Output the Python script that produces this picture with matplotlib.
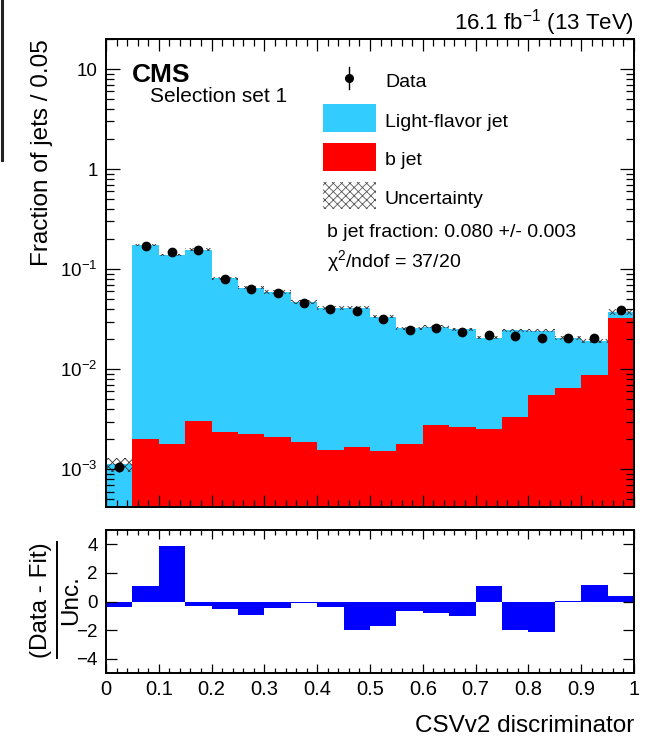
import numpy as np
import matplotlib
matplotlib.use("Agg")
import matplotlib.pyplot as plt
from matplotlib.patches import Rectangle
from matplotlib.lines import Line2D
from matplotlib.ticker import FixedLocator, MultipleLocator, NullFormatter

plt.rcParams['font.family'] = ['Liberation Sans', 'DejaVu Sans']
plt.rcParams['mathtext.fontset'] = 'custom'
plt.rcParams['mathtext.rm'] = 'Liberation Sans'
plt.rcParams['mathtext.it'] = 'Liberation Sans:italic'
plt.rcParams['mathtext.bf'] = 'Liberation Sans:bold'
plt.rcParams['hatch.linewidth'] = 0.6

# ---------------- data ----------------
edges = np.linspace(0.0, 1.0, 21)
bjet = [3.0e-4, 2.0e-3, 1.78e-3, 3.07e-3, 2.34e-3, 2.24e-3, 2.09e-3, 1.88e-3, 1.56e-3, 1.67e-3,
        1.54e-3, 1.78e-3, 2.77e-3, 2.63e-3, 2.51e-3, 3.31e-3, 5.54e-3, 6.46e-3, 8.77e-3, 0.0324]
light = [8.2e-4, 0.173, 0.1372, 0.1539, 0.0787, 0.0634, 0.0572, 0.0452, 0.0394, 0.0397,
         0.0321, 0.0239, 0.0239, 0.0225, 0.0182, 0.0212, 0.0188, 0.0142, 0.0104, 0.0050]
data = [1.06e-3, 0.172, 0.149, 0.156, 0.079, 0.064, 0.0575, 0.0464, 0.0404, 0.0386,
        0.0316, 0.0247, 0.0257, 0.0238, 0.0219, 0.0216, 0.0207, 0.0207, 0.0204, 0.0392]
data_err = [1.2e-4, 2.5e-3, 2.2e-3, 2.3e-3, 1.2e-3, 1.0e-3, 9e-4, 7e-4, 6e-4, 6e-4,
            5e-4, 4e-4, 4e-4, 4e-4, 4e-4, 4e-4, 4e-4, 4e-4, 4e-4, 6e-4]
unc_rel = [0.17, 0.03, 0.03, 0.03, 0.04, 0.04, 0.04, 0.04, 0.04, 0.04,
           0.04, 0.04, 0.04, 0.04, 0.04, 0.04, 0.04, 0.04, 0.04, 0.07]
pull = [-0.4, 1.1, 3.9, -0.28, -0.55, -0.94, -0.42, -0.08, -0.35, -1.98,
        -1.72, -0.66, -0.8, -1.01, 1.08, -1.98, -2.16, 0.05, 1.18, 0.35]
x_ticklabels = ["0", "0.1", "0.2", "0.3", "0.4", "0.5", "0.6", "0.7", "0.8", "0.9", "1"]
y_ticks_main = [1e-3, 1e-2, 1e-1, 1, 10]
y_ticklabels_main = [r"10$^{-3}$", r"10$^{-2}$", r"10$^{-1}$", "1", "10"]

bjet = np.array(bjet); light = np.array(light); data = np.array(data)
total = bjet + light
centers = 0.5 * (edges[:-1] + edges[1:])

# ---------------- figure ----------------
W, H = 649, 740
def fx(px): return px / W
def fy(py): return 1 - py / H

fig = plt.figure(figsize=(W / 100, H / 100), dpi=100)
ax = fig.add_axes([fx(106), fy(507), 528 / W, 468 / H])
ax2 = fig.add_axes([fx(106), fy(673), 528 / W, 143 / H])

LIGHT = '#33ccff'
RED = '#ff0000'

ax.set_yscale('log')
ax.stairs(bjet, edges, baseline=1e-6, fill=True, color=RED, lw=0)
ax.stairs(total, edges, baseline=bjet, fill=True, color=LIGHT, lw=0)
ax.bar(edges[:-1], total * 2 * np.array(unc_rel), bottom=total * (1 - np.array(unc_rel)),
       width=0.05, align='edge', fill=False, hatch='xxxx', edgecolor='#333333', linewidth=0)
ax.errorbar(centers, data, yerr=data_err, fmt='o', color='k', ms=6, elinewidth=1, capsize=0)

ax.set_xlim(0, 1)
ax.set_ylim(4.2e-4, 20)
ax.yaxis.set_major_locator(FixedLocator(y_ticks_main))
ax.set_yticklabels(y_ticklabels_main)
minor = [m * 10.0 ** e for e in range(-4, 2) for m in range(2, 10)]
ax.yaxis.set_minor_locator(FixedLocator(minor))
ax.yaxis.set_minor_formatter(NullFormatter())
ax.xaxis.set_major_locator(MultipleLocator(0.1))
ax.xaxis.set_minor_locator(MultipleLocator(0.02))
ax.tick_params(axis='both', which='both', direction='in', top=True, right=True, width=0.9)
ax.tick_params(axis='x', which='major', length=8.6)
ax.tick_params(axis='x', which='minor', length=4.7)
ax.tick_params(axis='y', which='major', length=10, labelsize=13.5, pad=6)
ax.tick_params(axis='y', which='minor', length=5.8)
ax.tick_params(labelbottom=False)

# ---- ratio panel ----
ax2.bar(edges[:-1], pull, width=0.05, align='edge', color='#0000ff', linewidth=0)
ax2.set_xlim(0, 1)
ax2.set_ylim(-5, 5)
ax2.yaxis.set_major_locator(FixedLocator([-4, -2, 0, 2, 4]))
ax2.set_yticklabels(["\u22124", "\u22122", "0", "2", "4"])
ax2.xaxis.set_major_locator(FixedLocator(np.linspace(0, 1, 11)))
ax2.set_xticklabels(x_ticklabels)
ax2.xaxis.set_minor_locator(MultipleLocator(0.02))
ax2.tick_params(axis='both', which='both', direction='in', top=True, right=True, width=0.9)
ax2.tick_params(axis='x', which='major', length=6.5, labelsize=14.5, pad=5)
ax2.tick_params(axis='x', which='minor', length=3.6)
ax2.tick_params(axis='y', which='major', length=7.7, labelsize=13.5, pad=6)

for a in (ax, ax2):
    for s in a.spines.values():
        s.set_linewidth(1.4)

# ---------------- texts ----------------
fig.text(fx(132), fy(82.3), "CMS", fontsize=19, fontweight='bold', va='baseline', ha='left')
fig.text(fx(150), fy(101.7), "Selection set 1", fontsize=15, va='baseline', ha='left')
fig.text(fx(634), fy(29.3), r"16.1 fb$^{-1}$ (13 TeV)", fontsize=16, va='baseline', ha='right')

fig.text(fx(42.5), fy(39), "Fraction of jets / 0.05", fontsize=17.5, rotation=90,
         ha='center', va='top')
fig.text(fx(634), fy(732), "CSVv2 discriminator", fontsize=17.5, ha='right', va='baseline')

# ratio label as a fraction
fig.text(fx(41.5), fy(600), "(Data - Fit)", fontsize=17.5, rotation=90, ha='center', va='center')
fig.text(fx(71.5), fy(600), "Unc.", fontsize=17.5, rotation=90, ha='center', va='center')
fig.add_artist(Line2D([fx(57.3), fx(57.3)], [fy(542), fy(658)], color='k', lw=1.4))

# legend
fig.add_artist(Line2D([fx(349.3), fx(349.3)], [fy(67), fy(89)], color='k', lw=1))
fig.add_artist(Line2D([fx(349.3)], [fy(78.3)], marker='o', ms=5.5, color='k'))
fig.text(fx(385), fy(87.3), "Data", fontsize=14, va='baseline')
fig.add_artist(Rectangle((fx(322.7), fy(131.7)), 53 / W, 27.7 / H, transform=fig.transFigure,
                         facecolor=LIGHT, edgecolor='none'))
fig.text(fx(385), fy(126.7), "Light-flavor jet", fontsize=14, va='baseline')
fig.add_artist(Rectangle((fx(322.7), fy(170.7)), 53 / W, 28 / H, transform=fig.transFigure,
                         facecolor=RED, edgecolor='none'))
fig.text(fx(385), fy(165), "b jet", fontsize=14, va='baseline')
fig.add_artist(Rectangle((fx(322.7), fy(209.3)), 53 / W, 27.6 / H, transform=fig.transFigure,
                         fill=False, hatch='xxxx', edgecolor='#555555', linewidth=0))
fig.text(fx(385), fy(204), "Uncertainty", fontsize=14, va='baseline')
fig.text(fx(326.7), fy(236.7), "b jet fraction: 0.080 +/- 0.003", fontsize=14, va='baseline')
fig.text(fx(326.7), fy(267.3), "\u03c7$^{2}$/ndof = 37/20", fontsize=14, va='baseline')

# dark line at the left edge of the picture
fig.add_artist(Line2D([fx(1.5), fx(1.5)], [fy(0), fy(160)], color='#222222', lw=2.2))

fig.savefig("out.png", dpi=100)
